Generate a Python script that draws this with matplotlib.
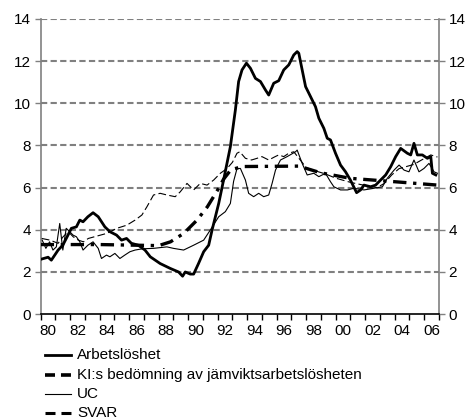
import matplotlib
matplotlib.use("Agg")
import matplotlib.pyplot as plt
import matplotlib.ticker as tick
from matplotlib.lines import Line2D

plt.rcParams["font.family"] = ["Liberation Sans", "DejaVu Sans"]
plt.rcParams["font.size"] = 11

# Arbetslöshet (thick solid)
arb_t = [1980.0, 1980.25, 1980.5, 1980.72, 1981.0, 1981.18, 1981.5, 1981.85, 1982.08, 1982.42,
         1982.65, 1982.87, 1983.2, 1983.55, 1983.9, 1984.35, 1984.69, 1985.14, 1985.48, 1985.82,
         1986.15, 1986.61, 1987.07, 1987.43, 1988.1, 1988.78, 1989.35, 1989.62, 1989.8, 1990.14,
         1990.37, 1990.7, 1991.05, 1991.39, 1991.62, 1992.07, 1992.4, 1992.86, 1993.2, 1993.42,
         1993.65, 1993.95, 1994.22, 1994.56, 1994.9, 1995.24, 1995.46, 1995.8, 1996.14, 1996.48,
         1996.82, 1997.16, 1997.39, 1997.5, 1997.73, 1997.96, 1998.3, 1998.63, 1998.86, 1999.2,
         1999.43, 1999.65, 1999.99, 2000.33, 2000.67, 2001.0, 2001.42, 2001.69, 2001.92, 2002.37,
         2002.71, 2003.05, 2003.39, 2003.73, 2004.07, 2004.41, 2004.86, 2005.09, 2005.31, 2005.54,
         2005.88, 2006.22, 2006.45, 2006.56, 2006.79]
arb_v = [2.6, 2.65, 2.7, 2.56, 2.85, 3.04, 3.27, 3.75, 4.07, 4.14,
         4.46, 4.38, 4.62, 4.81, 4.62, 4.14, 3.91, 3.75, 3.51, 3.59,
         3.36, 3.27, 3.04, 2.72, 2.4, 2.17, 2.0, 1.8, 2.0, 1.9,
         1.9, 2.4, 2.96, 3.27, 3.99, 5.25, 6.36, 7.94, 9.68, 11.03,
         11.58, 11.9, 11.66, 11.18, 11.03, 10.63, 10.39, 10.95, 11.07, 11.58,
         11.82, 12.29, 12.45, 12.37, 11.58, 10.79, 10.31, 9.84, 9.29, 8.81,
         8.34, 8.26, 7.63, 7.07, 6.75, 6.36, 5.76, 5.89, 6.12, 6.04,
         6.12, 6.36, 6.6, 6.99, 7.47, 7.86, 7.63, 7.55, 8.1, 7.55,
         7.55, 7.39, 7.47, 6.68, 6.6]

# KI:s bedömning av jämviktsarbetslösheten (thick dash-dot)
ki_t = [1980.0, 1984.0, 1988.0, 1988.8, 1989.7, 1990.6, 1991.3, 1992.0, 1992.4, 1992.9,
        1993.7, 1997.5, 1999.0, 2001.0, 2004.0, 2006.9]
ki_v = [3.3, 3.3, 3.25, 3.43, 3.83, 4.46, 5.09, 5.89, 6.4, 6.85,
        7.0, 7.02, 6.7, 6.44, 6.28, 6.12]

# UC (thin solid)
uc_t = [1980.1, 1980.35, 1980.6, 1980.83, 1981.06, 1981.29, 1981.5, 1981.73, 1981.97, 1982.19,
        1982.42, 1982.65, 1982.87, 1983.2, 1983.55, 1983.9, 1984.12, 1984.46, 1984.69, 1985.03,
        1985.37, 1985.7, 1986.05, 1986.4, 1986.9, 1987.65, 1988.56, 1989.0, 1989.69, 1990.37,
        1991.05, 1991.5, 1992.07, 1992.52, 1992.86, 1993.08, 1993.31, 1993.54, 1993.88, 1994.1,
        1994.44, 1994.78, 1995.12, 1995.46, 1995.69, 1995.92, 1996.14, 1996.26, 1996.71, 1997.28,
        1997.39, 1997.73, 1998.07, 1998.52, 1998.86, 1999.31, 1999.65, 1999.88, 2000.33, 2000.8,
        2001.24, 2001.92, 2002.6, 2003.17, 2003.5, 2003.96, 2004.3, 2004.64, 2004.97, 2005.31,
        2005.65, 2005.99, 2006.33, 2006.67, 2006.9]
uc_v = [3.51, 3.12, 3.43, 3.04, 3.19, 4.3, 3.04, 4.07, 3.91, 3.75,
        3.67, 3.43, 3.04, 3.27, 3.43, 3.12, 2.64, 2.8, 2.72, 2.88,
        2.64, 2.8, 2.96, 3.04, 3.1, 3.12, 3.19, 3.12, 3.04, 3.27,
        3.51, 3.99, 4.62, 4.86, 5.25, 6.3, 6.9, 6.91, 6.36, 5.73,
        5.57, 5.73, 5.57, 5.65, 6.2, 6.83, 7.15, 7.31, 7.47, 7.7,
        7.78, 7.15, 6.6, 6.68, 6.52, 6.68, 6.28, 6.04, 5.89, 5.89,
        5.97, 5.89, 5.97, 6.04, 6.44, 6.83, 7.07, 6.83, 6.75, 7.31,
        6.75, 6.91, 7.15, 6.75, 6.68]

# SVAR (thin dashed)
svar_t = [1980.07, 1980.63, 1981.18, 1981.52, 1981.87, 1982.2, 1982.55, 1982.9, 1983.23, 1983.8,
          1984.48, 1985.16, 1985.84, 1986.4, 1986.86, 1987.2, 1987.65, 1988.1, 1988.56, 1989.12,
          1989.46, 1989.92, 1990.37, 1990.82, 1991.28, 1991.73, 1992.18, 1992.64, 1993.0, 1993.31,
          1993.5, 1993.88, 1994.3, 1994.67, 1995.0, 1995.46, 1995.9, 1996.14, 1996.48, 1996.82,
          1997.16, 1997.6, 1998.0, 1998.6, 1999.3, 2000.0, 2001.0, 2002.0, 2002.8, 2003.3,
          2003.8, 2004.3, 2004.8, 2005.3, 2005.8, 2006.45, 2006.9]
svar_v = [3.59, 3.51, 3.36, 3.67, 3.91, 3.67, 3.51, 3.43, 3.59, 3.7,
          3.83, 4.07, 4.22, 4.46, 4.7, 5.09, 5.65, 5.73, 5.65, 5.57,
          5.8, 6.2, 5.89, 6.2, 6.12, 6.36, 6.68, 6.91, 7.2, 7.63,
          7.7, 7.39, 7.31, 7.39, 7.47, 7.31, 7.47, 7.55, 7.47, 7.63,
          7.7, 7.31, 6.95, 6.8, 6.65, 6.45, 6.25, 6.1, 6.0, 6.2,
          6.6, 6.9, 7.0, 7.1, 7.3, 7.55, 7.45]

labels = ["Arbetslöshet", "KI:s bedömning av jämviktsarbetslösheten", "UC", "SVAR"]
year_labels = ["80", "82", "84", "86", "88", "90", "92", "94", "96", "98", "00", "02", "04", "06"]

W, H = 469, 420
fig = plt.figure(figsize=(W / 100, H / 100), dpi=100)
ax = fig.add_axes([0.0868, 0.252, 0.849, 0.703])

grid_col = "#808080"
for yv in range(2, 15, 2):
    ax.axhline(yv, color=grid_col, lw=1.5, dashes=(3.0, 1.6), zorder=1)

ax.plot(svar_t, svar_v, color="black", lw=0.8, dashes=(7, 3), zorder=3)
ax.plot(uc_t, uc_v, color="black", lw=0.8, zorder=3)
ax.plot(ki_t, ki_v, color="black", lw=2.4, dashes=(4, 2, 1, 2), zorder=4)
ax.plot(arb_t, arb_v, color="black", lw=2.0, zorder=5)

ax.set_xlim(1980, 2007)
ax.set_ylim(0, 14)

# x axis: ticks at year boundaries, labels centred in even years
ax.xaxis.set_major_locator(tick.FixedLocator(list(range(1980, 2008))))
ax.xaxis.set_major_formatter(tick.NullFormatter())
ax.xaxis.set_minor_locator(tick.FixedLocator([1980.5 + 2 * i for i in range(len(year_labels))]))
ax.xaxis.set_minor_formatter(tick.FixedFormatter(year_labels))
ax.tick_params(axis="x", which="major", direction="out", length=4, width=1, color="black")
ax.tick_params(axis="x", which="minor", length=0, pad=7, labelsize=11)

ax.yaxis.set_major_locator(tick.MultipleLocator(2))
ax.tick_params(axis="y", which="major", direction="out", length=4, width=1, color=grid_col,
               left=True, right=True, labelleft=True, labelright=True, labelsize=11, pad=3)

ax.spines["top"].set_visible(False)
ax.spines["left"].set_color(grid_col)
ax.spines["right"].set_color(grid_col)
ax.spines["left"].set_linewidth(1.2)
ax.spines["right"].set_linewidth(1.2)
ax.spines["bottom"].set_color("black")
ax.spines["bottom"].set_linewidth(1.2)
ax.spines["bottom"].set_zorder(6)

# legend drawn by hand below the plot; dashes are 10px on, 6px off
legend_styles = [
    dict(lw=2.0),
    dict(lw=2.6, dashes=(7.2 / 2.6, 4.3 / 2.6)),
    dict(lw=0.8),
    dict(lw=2.2, dashes=(7.2 / 2.2, 4.3 / 2.2)),
]
row_y = [355, 375, 394, 413]
for lab, style, yp in zip(labels, legend_styles, row_y):
    fy = 1 - yp / H
    fig.add_artist(Line2D([45 / W, 71 / W], [fy, fy], color="black",
                          transform=fig.transFigure, **style))
    fig.text(77 / W, fy, lab, ha="left", va="center", fontsize=11)

fig.savefig("out.png", dpi=100)
